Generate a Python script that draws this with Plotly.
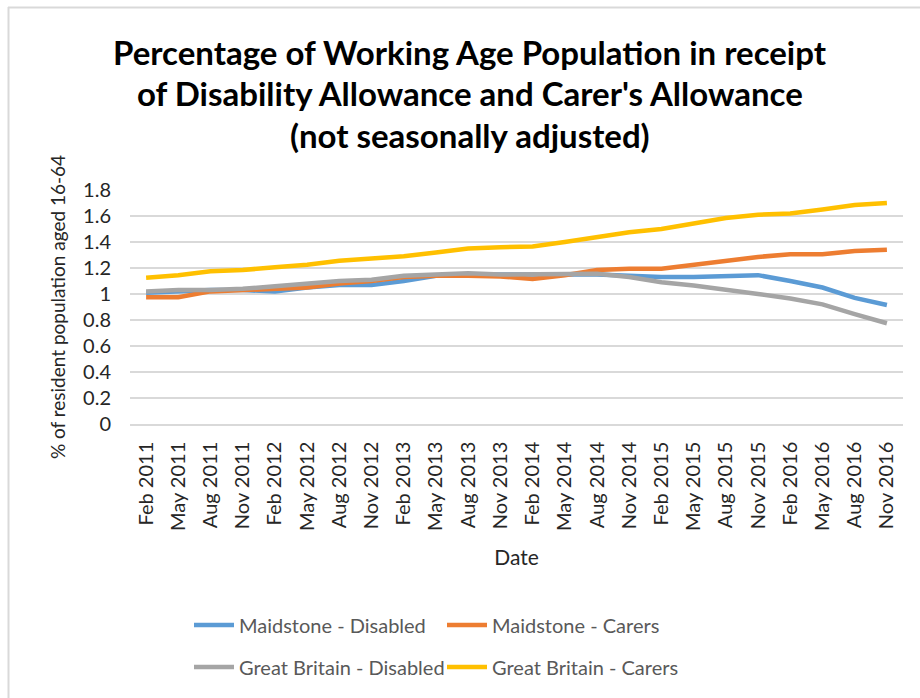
import plotly.graph_objects as go

dates = [
    "Feb 2011", "May 2011", "Aug 2011", "Nov 2011",
    "Feb 2012", "May 2012", "Aug 2012", "Nov 2012",
    "Feb 2013", "May 2013", "Aug 2013", "Nov 2013",
    "Feb 2014", "May 2014", "Aug 2014", "Nov 2014",
    "Feb 2015", "May 2015", "Aug 2015", "Nov 2015",
    "Feb 2016", "May 2016", "Aug 2016", "Nov 2016",
]

maidstone_disabled = [1.01, 1.02, 1.03, 1.03, 1.02, 1.05, 1.07, 1.07,
                      1.10, 1.14, 1.15, 1.15, 1.15, 1.15, 1.15, 1.14,
                      1.13, 1.13, 1.135, 1.145, 1.10, 1.05, 0.97, 0.915]
maidstone_carers = [0.975, 0.975, 1.02, 1.03, 1.04, 1.05, 1.08, 1.10,
                    1.13, 1.14, 1.14, 1.135, 1.115, 1.145, 1.185, 1.195,
                    1.195, 1.225, 1.255, 1.285, 1.305, 1.305, 1.33, 1.34]
gb_disabled = [1.02, 1.03, 1.03, 1.04, 1.06, 1.08, 1.10, 1.11,
               1.14, 1.15, 1.16, 1.15, 1.15, 1.155, 1.155, 1.13,
               1.09, 1.065, 1.035, 1.0, 0.965, 0.92, 0.845, 0.775]
gb_carers = [1.125, 1.145, 1.175, 1.185, 1.205, 1.225, 1.255, 1.275,
             1.29, 1.32, 1.35, 1.36, 1.365, 1.40, 1.44, 1.475,
             1.50, 1.545, 1.585, 1.61, 1.62, 1.65, 1.685, 1.70]

y_ticks = [0, 0.2, 0.4, 0.6, 0.8, 1, 1.2, 1.4, 1.6, 1.8]
y_tick_text = ["0", "0.2", "0.4", "0.6", "0.8", "1", "1.2", "1.4", "1.6", "1.8"]

# (name, values, colour, legend row)
series = [
    ("Maidstone - Disabled", maidstone_disabled, "#5B9BD5", "legend"),
    ("Maidstone - Carers", maidstone_carers, "#ED7D31", "legend"),
    ("Great Britain - Disabled", gb_disabled, "#A5A5A5", "legend2"),
    ("Great Britain - Carers", gb_carers, "#FFC000", "legend2"),
]

FONT = "Lato, 'Open Sans', sans-serif"
TEXT = "#262626"

fig = go.Figure()
for name, vals, color, leg in series:
    fig.add_trace(go.Scatter(
        x=dates, y=vals, name=name, mode="lines",
        line=dict(color=color, width=4.5), legend=leg,
    ))

W, H = 920, 698
L, R, T, B = 130, 17, 190, 274
pw, ph = W - L - R, H - T - B

def px_x(x):
    return (x - L) / pw

def px_y(y):
    return (H - B - y) / ph

title_lines = [
    "Percentage of Working Age Population in receipt",
    "of Disability Allowance and Carer's Allowance",
    "(not seasonally adjusted)",
]
title_y = [52, 93, 135]
annotations = []
for txt, yy in zip(title_lines, title_y):
    annotations.append(dict(
        text=txt, xref="paper", yref="paper",
        x=px_x(470), y=px_y(yy), xanchor="center", yanchor="middle",
        showarrow=False,
        font=dict(family=FONT, size=33, color="#000000", weight="bold"),
    ))

legend_common = dict(
    orientation="h", xanchor="left", yanchor="middle",
    entrywidth=198, entrywidthmode="pixels",
    font=dict(family=FONT, size=20, color="#595959"),
    traceorder="normal", itemwidth=40, tracegroupgap=0,
    bgcolor="rgba(0,0,0,0)",
)

fig.update_layout(
    width=W, height=H,
    margin=dict(l=L, r=R, t=T, b=B),
    paper_bgcolor="white", plot_bgcolor="white",
    font=dict(family=FONT, color=TEXT, size=20),
    showlegend=True,
    legend=dict(x=px_x(189), y=px_y(625), **legend_common),
    legend2=dict(x=px_x(189), y=px_y(667), **legend_common),
    annotations=annotations,
    shapes=[
        dict(type="line", xref="paper", yref="paper",
             x0=px_x(8), x1=px_x(925), y0=px_y(7.5), y1=px_y(7.5),
             line=dict(color="#D9D9D9", width=2)),
        dict(type="line", xref="paper", yref="paper",
             x0=px_x(8.5), x1=px_x(8.5), y0=px_y(7), y1=px_y(705),
             line=dict(color="#D9D9D9", width=2)),
    ],
)

fig.update_xaxes(
    type="category", tickangle=-90,
    tickfont=dict(family=FONT, size=20, color=TEXT),
    showgrid=False, showline=True, linecolor="#D9D9D9", linewidth=1.5,
    ticks="", range=[-0.5, len(dates) - 0.5], ticklabelstandoff=8,
    title=dict(text="Date", font=dict(family=FONT, size=21, color=TEXT), standoff=20),
)
fig.update_yaxes(
    range=[0, 1.8], tickvals=y_ticks, ticktext=y_tick_text,
    tickfont=dict(family=FONT, size=20, color=TEXT),
    showgrid=True, gridcolor="#D9D9D9", gridwidth=1.5,
    zeroline=False, ticks="", ticklabelstandoff=18,
    title=dict(text="% of resident population aged 16-64",
               font=dict(family=FONT, size=19, color=TEXT), standoff=12),
)

fig.write_html("out.html")
